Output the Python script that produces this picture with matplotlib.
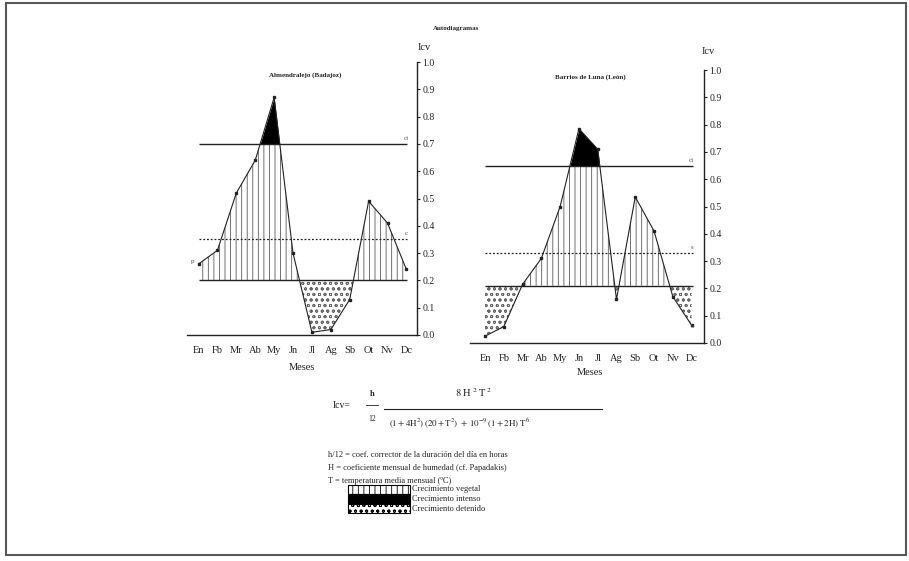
import numpy as np
import matplotlib
matplotlib.use('Agg')
import matplotlib.pyplot as plt
from matplotlib.patches import Rectangle

plt.rcParams['font.family'] = ['Liberation Serif', 'DejaVu Serif']
plt.rcParams['mathtext.fontset'] = 'stix'
plt.rcParams['hatch.linewidth'] = 0.6

# --- data ---
months = ['En', 'Fb', 'Mr', 'Ab', 'My', 'Jn', 'Jl', 'Ag', 'Sb', 'Ot', 'Nv', 'Dc']
yticks = [0.0, 0.1, 0.2, 0.3, 0.4, 0.5, 0.6, 0.7, 0.8, 0.9, 1.0]

alm_icv = [0.26, 0.31, 0.52, 0.64, 0.87, 0.30, 0.01, 0.02, 0.13, 0.49, 0.41, 0.24]
alm_low, alm_mid, alm_high = 0.20, 0.35, 0.70

luna_icv = [0.025, 0.06, 0.215, 0.31, 0.50, 0.785, 0.71, 0.16, 0.535, 0.41, 0.17, 0.065]
luna_low, luna_mid, luna_high = 0.21, 0.33, 0.65

W, H = 909, 561
INK = '#222222'


def px_axes(fig, x0, x1, y_top, y_bot):
    # place an axes using pixel coords of the 909x561 scan (y downwards)
    return fig.add_axes([x0 / W, 1 - y_bot / H, (x1 - x0) / W, (y_bot - y_top) / H])


def draw_station(ax, vals, low, mid, high, xlim, labels):
    x = np.arange(len(vals))
    xs = np.linspace(0, len(vals) - 1, 800)
    ys = np.interp(xs, x, vals)

    # growth (vertical hatch) between low line and curve, capped at high line
    ax.fill_between(xs, low, np.minimum(ys, high), where=ys >= low,
                    facecolor='white', edgecolor='0.35', hatch='|||', linewidth=0)
    # intense growth (black) above high line
    ax.fill_between(xs, high, ys, where=ys >= high, color='black', linewidth=0)
    # stopped growth (dots) below low line
    ax.fill_between(xs, ys, low, where=ys <= low,
                    facecolor='white', edgecolor='0.4', hatch='ooo', linewidth=0)

    ax.plot(x, vals, color=INK, lw=0.8, marker='s', ms=1.8)
    ax.hlines([low, high], x[0], x[-1] + 0.05, colors=INK, lw=1.0)
    ax.hlines(mid, x[0], x[-1] + 0.05, colors=INK, lw=0.9, linestyles=(0, (1.5, 1.5)))

    for txt, tx, ty in labels:
        ax.text(tx, ty, txt, fontsize=5, color='0.3', ha='center', va='center')

    ax.set_xlim(*xlim)
    ax.set_ylim(0, 1.0)
    ax.yaxis.tick_right()
    ax.set_yticks(yticks)
    ax.set_yticklabels(['%.1f' % v for v in yticks])
    ax.tick_params(axis='y', direction='out', length=2.5, width=0.8, pad=1.5,
                   labelsize=7, colors=INK)
    ax.set_xticks(x)
    ax.set_xticklabels(months)
    ax.tick_params(axis='x', length=0, pad=8, labelsize=7.5, colors=INK)
    for s in ['top', 'left']:
        ax.spines[s].set_visible(False)
    ax.spines['right'].set_linewidth(1.0)
    ax.spines['bottom'].set_linewidth(1.0)
    ax.spines['right'].set_color(INK)
    ax.spines['bottom'].set_color(INK)
    ax.patch.set_visible(False)


fig = plt.figure(figsize=(W / 100, H / 100), dpi=100)

ax1 = px_axes(fig, 187, 417, 62, 335)
draw_station(ax1, alm_icv, alm_low, alm_mid, alm_high, (-0.61, 11.56),
             [('p', -0.3, 0.27), ('ci', 11.0, 0.72), ('c', 11.0, 0.37)])

ax2 = px_axes(fig, 470, 704, 70, 343)
draw_station(ax2, luna_icv, luna_low, luna_mid, luna_high, (-0.8, 11.66),
             [('ci', 11.0, 0.67), ('s', 11.0, 0.35), ('b', 11.05, 0.06)])

# overlay in pixel coords for titles, formula and legend
ov = fig.add_axes([0, 0, 1, 1])
ov.set_xlim(0, W)
ov.set_ylim(H, 0)
ov.axis('off')

ov.add_patch(Rectangle((6, 3), 900, 552, fill=False, edgecolor='0.35', lw=1.5))

ov.text(456, 28, 'Autodiagramas', fontsize=5, fontweight='bold', ha='center', va='center', color=INK)
ov.text(305, 75, 'Almendralejo (Badajoz)', fontsize=5, fontweight='bold', ha='center', va='center', color=INK)
ov.text(590, 77, 'Barrios de Luna (León)', fontsize=5, fontweight='bold', ha='center', va='center', color=INK)

ov.text(424, 47, 'Icv', fontsize=7.5, ha='center', va='center', color=INK)
ov.text(708, 51, 'Icv', fontsize=7.5, ha='center', va='center', color=INK)
ov.text(302, 367, 'Meses', fontsize=7.5, ha='center', va='center', color=INK)
ov.text(590, 372, 'Meses', fontsize=7.5, ha='center', va='center', color=INK)

# formula
ov.text(342, 405, 'Icv=', fontsize=7, ha='center', va='center', color=INK)
ov.text(372, 394, 'h', fontsize=6, fontweight='bold', ha='center', va='center', color=INK)
ov.plot([366, 378], [405, 405], color=INK, lw=0.6)
ov.text(372, 419, '12', fontsize=5.5, ha='center', va='center', color=INK)
ov.plot([384, 602], [409, 409], color=INK, lw=0.8)
ov.text(473, 393, r'$\mathrm{8\ H^{\ 2}\ T^{\,2}}$', fontsize=7.5, ha='center', va='center', color=INK)
ov.text(460, 423, r'$\mathrm{(1+4H^2)\,(20+T^2)\;+\;10^{-9}\,(1+2H)\;T^6}$', fontsize=6.5,
        ha='center', va='center', color=INK)

legend_lines = ['h/12 = coef. corrector de la duración del día en horas',
                'H = coeficiente mensual de humedad (cf. Papadakis)',
                'T = temperatura media mensual (ºC)']
for i, line in enumerate(legend_lines):
    ov.text(328, 455 + 13 * i, line, fontsize=6, ha='left', va='center', color=INK)

ov.add_patch(Rectangle((348, 485), 62, 9, facecolor='white', edgecolor='black',
                       hatch='|||', lw=0.8))
ov.add_patch(Rectangle((348, 494), 62, 10, facecolor='black', edgecolor='black', lw=0.8))
ov.add_patch(Rectangle((348, 504), 62, 9, facecolor='white', edgecolor='black',
                       hatch='ooo', lw=0.8))
for yy, txt in [(489, 'Crecimiento vegetal'), (499, 'Crecimiento intenso'),
                (509, 'Crecimiento detenido')]:
    ov.text(412, yy, txt, fontsize=6, ha='left', va='center', color=INK)

fig.savefig('out.png', dpi=100)
